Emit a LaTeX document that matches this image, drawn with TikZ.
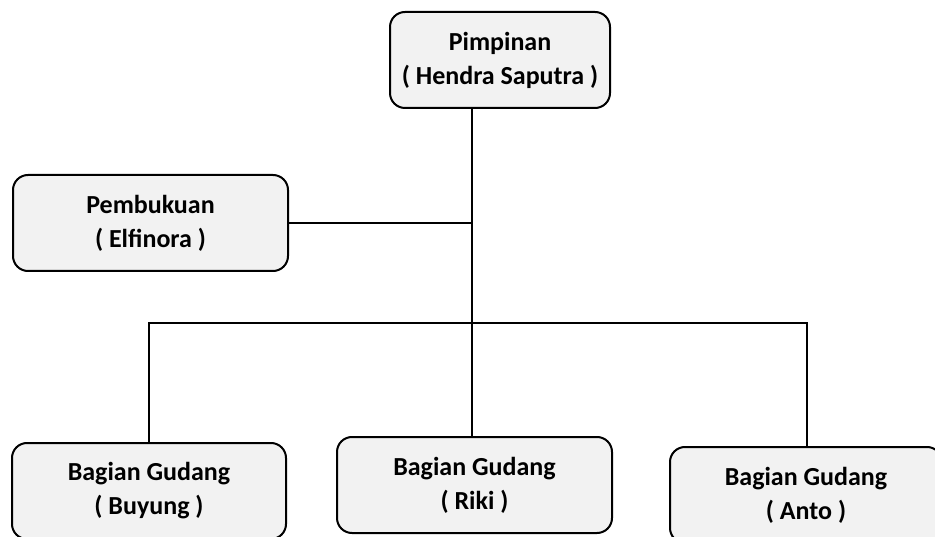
\documentclass[tikz,border=0pt]{standalone}
\usepackage{fontspec}
\setmainfont{Carlito}
\usepackage{tikz}
\usetikzlibrary{positioning}

\definecolor{boxgray}{HTML}{F2F2F2}

\tikzset{
  jabatan/.style={draw=black, line width=2pt, fill=boxgray, rounded corners=15pt,
    align=center, inner sep=0pt, font=\bfseries\fontsize{26}{34}\selectfont},
  garis/.style={line width=1.3pt}
}

\begin{document}
\begin{tikzpicture}[x=1pt, y=-1pt]
        \useasboundingbox (0,0) rectangle (935,537);

        \node[jabatan, minimum width=220pt, minimum height=96pt] (pimpinan) at (500,60) {Pimpinan\\( Hendra Saputra )};
        \node[jabatan, minimum width=275pt, minimum height=96pt] (pembukuan) at (150.5,223) {Pembukuan\\( Elfinora )};
        \node[jabatan, minimum width=274pt, minimum height=96pt] (buyung) at (149,491) {Bagian Gudang\\( Buyung )};
        \node[jabatan, minimum width=275pt, minimum height=96pt] (riki) at (474.5,485) {Bagian Gudang\\( Riki )};
        \node[jabatan, minimum width=272pt, minimum height=96pt] (anto) at (806,495) {Bagian Gudang\\( Anto )};

        \coordinate (bar) at (472,323);
        \coordinate (antodrop) at (807,323);

        % Edge
        \draw[garis] (pimpinan.south -| bar) -- (riki.north -| bar);
        \draw[garis] (pembukuan.east) -- (pembukuan.east -| bar);
        \draw[garis] (buyung.north) -- (buyung.north |- bar) -- (antodrop) -- (antodrop |- anto.north);
\end{tikzpicture}
\end{document}
